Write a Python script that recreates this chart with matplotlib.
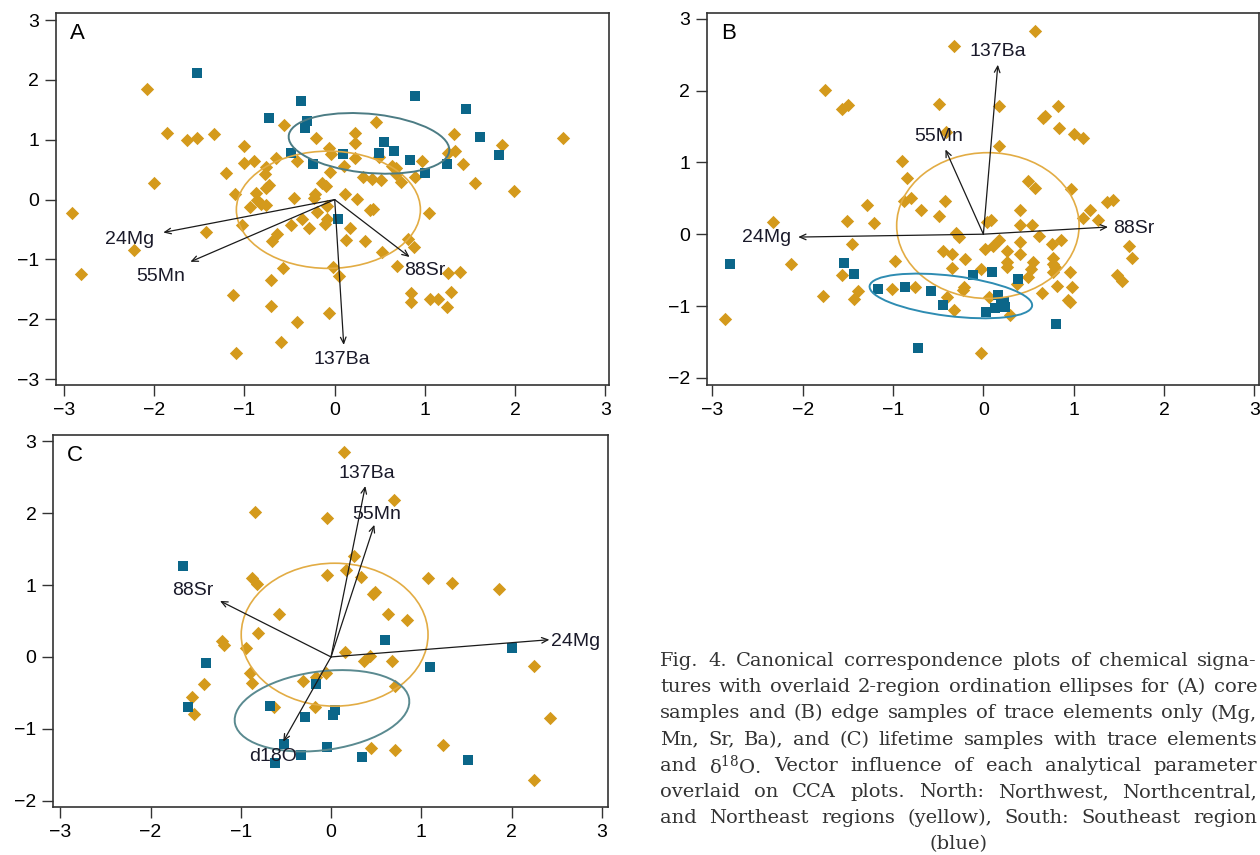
import matplotlib
matplotlib.use('Agg')
import matplotlib.pyplot as plt
from matplotlib.patches import Ellipse

plt.rcParams['font.family'] = ['Liberation Sans', 'DejaVu Sans']
plt.rcParams['mathtext.fontset'] = 'dejavuserif'

YEL = '#d49a1c'
BLU = '#0b6689'

# ---- panel A: core samples ----
a_north_x = [-2.08, -2.91, -2.81, -2.22, -2.0, -1.86, -1.64, -1.53, -1.34, -1.43, -1.20, -1.10, -1.13,
             -1.09, -1.03, -1.00, -1.00, -0.90, -0.94, -0.87, -0.86, -0.82, -0.77, -0.76, -0.73, -0.76,
             -0.76, -0.70, -0.71, -0.71, -0.65, -0.64, -0.60, -0.57, -0.56, -0.49, -0.45, -0.42, -0.42,
             -0.36, -0.29, -0.21, -0.22, -0.20, -0.23, -0.14, -0.10, -0.09, -0.09, -0.11, -0.06, -0.04,
             -0.05, -0.06, -0.02, 0.05, 0.10, 0.11, 0.12, 0.17, 0.23, 0.23, 0.23, 0.25, 0.31, 0.34, 0.39,
             0.42, 0.41, 0.46, 0.49, 0.51, 0.52, 0.63, 0.68, 0.68, 0.69, 0.74, 0.81, 0.88, 0.85, 0.85,
             0.89, 0.97, 1.04, 1.06, 1.15, 1.24, 1.26, 1.29, 1.26, 1.32, 1.33, 1.39, 1.42, 1.55, 1.85,
             1.99, 2.53]
a_north_y = [1.85, -0.22, -1.24, -0.85, 0.27, 1.11, 0.99, 1.03, 1.09, -0.55, 0.45, 0.10, -1.60,
             -2.57, -0.43, 0.90, 0.61, 0.65, -0.12, 0.11, -0.01, -0.07, 0.43, 0.55, 0.24, 0.19,
             -0.09, -0.70, -1.35, -1.78, 0.70, -0.57, -2.38, -1.14, 1.24, -0.43, 0.03, 0.65, -2.05,
             -0.33, -0.48, 1.03, 0.10, -0.21, 0.02, 0.28, 0.23, -0.11, -0.32, -0.41, 0.86, 0.77,
             0.46, -1.89, -1.12, -1.28, 0.56, 0.10, -0.68, -0.48, 1.12, 0.94, 0.70, 0.01, 0.38, -0.70, -0.18,
             -0.15, 0.34, 1.29, 0.72, 0.32, -0.87, 0.57, 0.52, 0.43, -1.11, 0.30, -0.66, -0.79, -1.57, -1.72,
             0.38, 0.65, -0.23, -1.67, -1.67, -1.80, -1.22, -1.54, 0.78, 1.09, 0.81, -1.21, 0.60, 0.27, 0.92,
             0.14, 1.03]
a_south_x = [-1.53, -0.37, -0.73, -0.31, -0.33, 0.89, 1.46, 1.61, 0.55, -0.49, 0.09, 0.49, 0.66,
             0.84, -0.24, 1.25, 1.00, 1.82, 0.04]
a_south_y = [2.12, 1.65, 1.37, 1.31, 1.20, 1.73, 1.51, 1.05, 0.96, 0.78, 0.76, 0.78, 0.81,
             0.66, 0.59, 0.59, 0.45, 0.74, -0.32]
a_vec_names = ['24Mg', '55Mn', '88Sr', '137Ba']
a_vec_x = [-1.90, -1.60, 0.83, 0.10]
a_vec_y = [-0.55, -1.04, -0.96, -2.43]
a_lab_x = [-2.27, -1.93, 1.00, 0.08]
a_lab_y = [-0.67, -1.28, -1.19, -2.67]
# ellipses: (cx, cy, width, height, angle)
a_ell_north = (-0.07, -0.17, 2.04, 1.96, 0)
a_ell_south = (0.38, 0.94, 1.80, 0.98, -10)

# ---- panel B: edge samples ----
b_north_x = [-2.86, -2.33, -2.13, -1.78, -1.75, -1.56, -1.50, -1.51, -1.46, -1.56, -1.43, -1.39, -1.29,
             -1.21, -1.01, -0.98, -0.90, -0.85, -0.88, -0.80, -0.76, -0.69, -0.49, -0.49, -0.42, -0.41,
             -0.45, -0.40, -0.35, -0.35, -0.33, -0.32, -0.30, -0.27, -0.21, -0.23, -0.20, -0.03, -0.03,
             0.02, 0.04, 0.08, 0.06, 0.11, 0.17, 0.17, 0.17, 0.26, 0.26, 0.26, 0.30, 0.41, 0.41, 0.41,
             0.41, 0.37, 0.49, 0.54, 0.49, 0.53, 0.55, 0.57, 0.57, 0.62, 0.65, 0.66, 0.68, 0.76, 0.77,
             0.77, 0.77, 0.79, 0.81, 0.83, 0.84, 0.86, 0.94, 0.96, 0.96, 0.98, 0.97, 1.00, 1.10, 1.10,
             1.18, 1.27, 1.37, 1.43, 1.48, 1.54, 1.61, 1.65]
b_north_y = [-1.18, 0.17, -0.41, -0.86, 2.01, 1.75, 1.80, 0.19, -0.13, -0.57, -0.90, -0.79, 0.41,
             0.15, -0.76, -0.38, 1.02, 0.78, 0.46, 0.50, -0.73, 0.34, 1.81, 0.25, 0.46, 1.42,
             -0.24, -0.87, -0.27, -0.47, -1.05, 2.62, 0.02, -0.04, -0.73, -0.78, -0.35, -0.48, -1.66,
             -0.21, 0.17, 0.20, -0.87, -0.16, -0.08, 1.78, 1.23, -0.23, -0.39, -0.45, -1.12, 0.33, 0.13, -0.11,
             -0.28, -0.69, 0.74, 0.13, -0.59, -0.48, -0.39, 2.83, 0.65, -0.02, -0.82, 1.62, 1.65, -0.14, -0.33,
             -0.42, -0.52, -0.46, -0.72, 1.79, 1.48, -0.08, -0.91, -0.95, -0.53, -0.73, 0.63, 1.39, 1.34, 0.22,
             0.33, 0.20, 0.45, 0.48, -0.57, -0.65, -0.17, -0.33]
b_south_x = [-2.80, -1.54, -1.43, -1.17, -0.87, -0.58, -0.45, -0.72, -0.11, 0.10, 0.03, 0.16, 0.13,
             0.19, 0.23, 0.24, 0.38, 0.80]
b_south_y = [-0.42, -0.40, -0.56, -0.76, -0.73, -0.79, -0.99, -1.58, -0.57, -0.52, -1.09, -0.84, -1.03,
             -0.99, -0.94, -1.01, -0.62, -1.25]
b_vec_names = ['24Mg', '88Sr', '55Mn', '137Ba']
b_vec_x = [-2.05, 1.38, -0.42, 0.16]
b_vec_y = [-0.04, 0.10, 1.18, 2.36]
b_lab_x = [-2.40, 1.67, -0.50, 0.16]
b_lab_y = [-0.04, 0.08, 1.36, 2.54]
b_ell_north = (0.05, 0.12, 2.02, 2.03, 0)
b_ell_south = (-0.36, -0.86, 1.82, 0.56, -9)

# ---- panel C: lifetime samples ----
c_north_x = [0.14, 0.70, -0.84, -0.04, 0.26, 0.17, 0.33, -0.04, -0.88, -0.82, 1.07, 1.34, 1.86, 0.46,
             0.49, -0.58, 0.63, 0.84, -0.81, -1.21, -1.19, -0.94, 0.16, 0.36, 0.43, 0.68, 2.25, -0.90,
             -0.87, -1.41, -0.31, -0.17, -0.06, -1.54, -1.52, -0.63, -0.18, 0.71, 2.43, 0.44, 0.71,
             1.24, 2.25]
c_north_y = [2.86, 2.19, 2.02, 1.93, 1.41, 1.21, 1.12, 1.14, 1.10, 1.01, 1.10, 1.03, 0.95, 0.88,
             0.91, 0.60, 0.60, 0.51, 0.33, 0.22, 0.16, 0.12, 0.07, -0.05, 0.01, -0.06, -0.12, -0.22,
             -0.36, -0.38, -0.34, -0.28, -0.23, -0.56, -0.80, -0.70, -0.70, -0.41, -0.85, -1.27, -1.30,
             -1.22, -1.72]
c_south_x = [-1.64, -1.38, -1.58, -0.68, -0.52, -0.62, -0.33, -0.29, -0.17, -0.04, 0.02, 0.04, 0.34,
             0.60, 1.10, 1.52, 2.00]
c_south_y = [1.27, -0.08, -0.70, -0.69, -1.21, -1.48, -1.36, -0.84, -0.37, -1.26, -0.81, -0.74, -1.40,
             0.24, -0.14, -1.43, 0.12]
c_vec_names = ['137Ba', '55Mn', '88Sr', '24Mg', 'd18O']
c_vec_x = [0.38, 0.48, -1.23, 2.42, -0.53]
c_vec_y = [2.38, 1.84, 0.78, 0.24, -1.18]
c_lab_x = [0.40, 0.51, -1.53, 2.71, -0.64]
c_lab_y = [2.56, 1.99, 0.92, 0.22, -1.38]
c_ell_north = (0.04, 0.31, 2.07, 1.99, 0)
c_ell_south = (-0.10, -0.75, 1.96, 1.09, 11)

caption = [
    "Fig. 4. Canonical correspondence plots of chemical signa-",
    "tures with overlaid 2-region ordination ellipses for (A) core",
    "samples and (B) edge samples of trace elements only (Mg,",
    "Mn, Sr, Ba), and (C) lifetime samples with trace elements",
    "and \u03b4$^{18}$O. Vector influence of each analytical parameter",
    "overlaid on CCA plots. North: Northwest, Northcentral,",
    "and Northeast regions (yellow), South: Southeast region",
    "(blue)",
]

fig = plt.figure(figsize=(12.6, 8.55), dpi=100)
SANS = ['Liberation Sans', 'DejaVu Sans']


def panel(rect, letter, nx, ny, sx, sy, names, vx, vy, lx, ly, en, es, scol,
          xlim, ylim, yticks):
    ax = fig.add_axes(rect)
    ax.scatter(nx, ny, marker='D', s=46, color=YEL, linewidths=0, zorder=2)
    ax.scatter(sx, sy, marker='s', s=50, color=BLU, linewidths=0, zorder=2)
    ax.add_patch(Ellipse(en[:2], en[2], en[3], angle=en[4], fill=False,
                         edgecolor='#e2ac44', lw=1.2, zorder=3))
    ax.add_patch(Ellipse(es[:2], es[2], es[3], angle=es[4], fill=False,
                         edgecolor=scol, lw=1.4, zorder=3))
    for n, x, y, tx, ty in zip(names, vx, vy, lx, ly):
        ax.annotate('', xy=(x, y), xytext=(0, 0),
                    arrowprops=dict(arrowstyle='->,head_length=0.45,head_width=0.2',
                                    color='#1a1a1a', lw=0.9, shrinkA=0, shrinkB=0),
                    zorder=4)
        ax.text(tx, ty, n, ha='center', va='center', fontsize=14, color='#1a1a2a',
                family=SANS, zorder=5)
    ax.text(0.025, 0.945, letter, transform=ax.transAxes, fontsize=16,
            family=SANS, ha='left', va='center')
    ax.set_xlim(*xlim)
    ax.set_ylim(*ylim)
    ax.set_xticks(range(-3, 4))
    ax.set_yticks(yticks)
    ax.tick_params(direction='out', length=8, width=1, labelsize=14,
                   color='#333333', pad=4)
    for lab in ax.get_xticklabels() + ax.get_yticklabels():
        lab.set_family(SANS)
    for sp in ax.spines.values():
        sp.set_color('#333333')
        sp.set_linewidth(1.2)
    return ax


panel([0.0444, 0.5497, 0.4389, 0.4351], 'A', a_north_x, a_north_y, a_south_x, a_south_y,
      a_vec_names, a_vec_x, a_vec_y, a_lab_x, a_lab_y, a_ell_north, a_ell_south, '#4c7c84',
      (-3.09, 3.04), (-3.10, 3.12), range(-3, 4))
panel([0.5611, 0.5497, 0.4380, 0.4351], 'B', b_north_x, b_north_y, b_south_x, b_south_y,
      b_vec_names, b_vec_x, b_vec_y, b_lab_x, b_lab_y, b_ell_north, b_ell_south, '#2e8cb2',
      (-3.06, 3.05), (-2.10, 3.08), range(-2, 4))
panel([0.0421, 0.0561, 0.4405, 0.4351], 'C', c_north_x, c_north_y, c_south_x, c_south_y,
      c_vec_names, c_vec_x, c_vec_y, c_lab_x, c_lab_y, c_ell_north, c_ell_south, '#5a8a90',
      (-3.08, 3.07), (-2.09, 3.09), range(-2, 4))

# justified caption
fig.canvas.draw()
r = fig.canvas.get_renderer()
x0, x1 = 660 / 1260, 1257 / 1260
for i, line in enumerate(caption):
    y = 1 - (661 + i * 26.2) / 855
    kw = dict(fontsize=14, family='DejaVu Serif', color='#333333', va='center')
    if i == len(caption) - 1:
        fig.text((x0 + x1) / 2, y, line, ha='center', **kw)
        continue
    words = line.split(' ')
    texts = [fig.text(0, y, w, ha='left', **kw) for w in words]
    widths = [t.get_window_extent(r).width / 1260 for t in texts]
    gap = (x1 - x0 - sum(widths)) / (len(words) - 1)
    x = x0
    for t, w in zip(texts, widths):
        t.set_x(x)
        x += w + gap

fig.savefig('out.png', dpi=100)
